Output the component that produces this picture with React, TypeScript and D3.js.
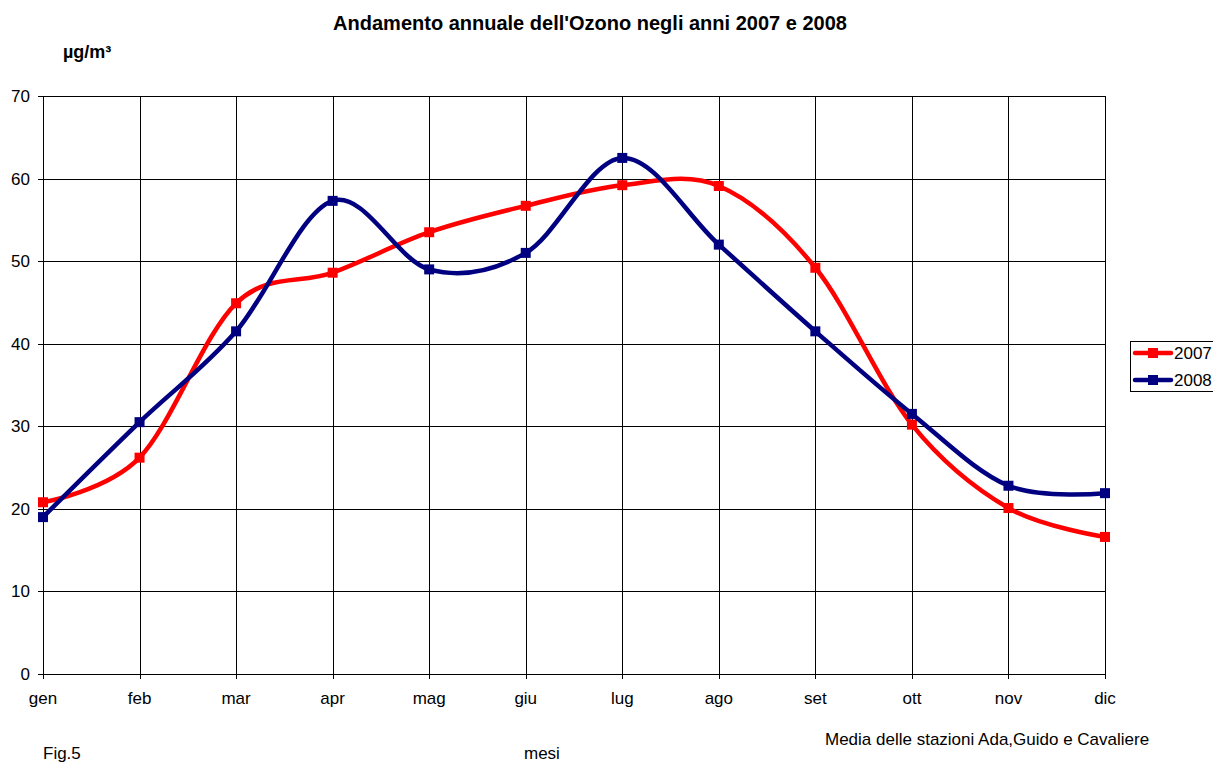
import React from "react";
import * as d3 from "d3";

const months = ["gen", "feb", "mar", "apr", "mag", "giu", "lug", "ago", "set", "ott", "nov", "dic"];
const values2007 = [20.8, 26.2, 44.9, 48.6, 53.5, 56.7, 59.2, 59.1, 49.2, 30.2, 20.1, 16.6];
const values2008 = [19.0, 30.5, 41.5, 57.3, 49.0, 51.0, 62.5, 52.0, 41.5, 31.5, 22.8, 21.9];
const yTicks = [0, 10, 20, 30, 40, 50, 60, 70];
const seriesNames = ["2007", "2008"];
const seriesColors = ["#ff0000", "#000080"];

const W = 1213;
const H = 763;
const left = 43;
const right = 1105;
const top = 96;
const bottom = 674;
const FONT = "'Liberation Sans', Arial, sans-serif";

export default function App() {
  const x = d3.scalePoint<string>().domain(months).range([left, right]);
  const y = d3.scaleLinear().domain([0, 70]).range([bottom, top]);
  const line = d3
    .line<number>()
    .x((_, i) => x(months[i]) as number)
    .y((d) => y(d))
    .curve(d3.curveCardinal.tension(0));
  const series = [values2007, values2008];
  const px = (v: number) => Math.round(v) + 0.5;

  return (
    <svg width={W} height={H} style={{ position: "absolute", left: 0, top: 0, background: "#fff" }} fontFamily={FONT}>
      <rect x={0} y={0} width={W} height={H} fill="#fff" />
      <text x={590} y={30} textAnchor="middle" fontSize={20} fontWeight="bold">
        Andamento annuale dell'Ozono negli anni 2007 e 2008
      </text>
      <text x={63} y={58} fontSize={18} fontWeight="bold">µg/m³</text>

      {/* horizontal gridlines */}
      {yTicks.map((t) => (
        <g key={"h" + t}>
          <line x1={left - 5} x2={right} y1={px(y(t))} y2={px(y(t))} stroke="#000" strokeWidth={1} />
          <text x={30} y={y(t) + 6} textAnchor="end" fontSize={17}>{t}</text>
        </g>
      ))}
      {/* vertical gridlines */}
      {months.map((m) => (
        <g key={"v" + m}>
          <line x1={px(x(m) as number)} x2={px(x(m) as number)} y1={top} y2={bottom + 5} stroke="#000" strokeWidth={1} />
          <text x={x(m) as number} y={704} textAnchor="middle" fontSize={17}>{m}</text>
        </g>
      ))}

      {series.map((s, k) => (
        <g key={"s" + k}>
          <path d={line(s) || ""} fill="none" stroke={seriesColors[k]} strokeWidth={4.5} strokeLinejoin="round" />
          {s.map((v, i) => (
            <rect
              key={i}
              x={(x(months[i]) as number) - 5}
              y={y(v) - 5}
              width={10}
              height={10}
              fill={seriesColors[k]}
            />
          ))}
        </g>
      ))}

      {/* legend */}
      <rect x={1130.5} y={341.5} width={100} height={50} fill="#fff" stroke="#000" strokeWidth={1} />
      {seriesNames.map((n, k) => (
        <g key={"l" + n}>
          <line x1={1135} x2={1171} y1={353 + k * 27} y2={353 + k * 27} stroke={seriesColors[k]} strokeWidth={4.5} strokeLinecap="round" />
          <rect x={1148} y={348 + k * 27} width={10} height={10} fill={seriesColors[k]} />
          <text x={1174} y={359 + k * 27} fontSize={17}>{n}</text>
        </g>
      ))}

      <text x={825} y={745} fontSize={17}>Media delle stazioni Ada,Guido e Cavaliere</text>
      <text x={43} y={759} fontSize={17}>Fig.5</text>
      <text x={524} y={759} fontSize={17}>mesi</text>
    </svg>
  );
}
